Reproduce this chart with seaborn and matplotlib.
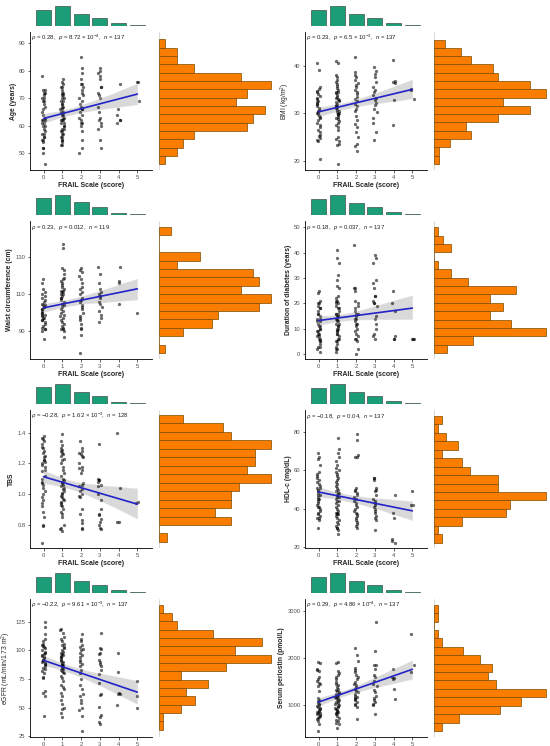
import numpy as np
import pandas as pd
import matplotlib
matplotlib.use("Agg")
import matplotlib.pyplot as plt
import seaborn as sns

# FRAIL score groups 0..5
scores = [0, 1, 2, 3, 4, 5]

age = [
    [78, 73, 73, 72, 72, 71, 70, 70, 69, 69, 68, 67, 66, 65, 64, 63, 62, 62, 62, 61,
     61, 60, 60, 59, 58, 57, 57, 56, 56, 55, 55, 54, 52, 52, 50, 46],
    [77, 76, 75, 74, 74, 73, 72, 72, 71, 71, 70, 70, 69, 69, 68, 68, 67, 67, 66, 66,
     65, 65, 64, 64, 63, 63, 62, 62, 62, 61, 61, 60, 60, 59, 59, 58, 58, 57, 57, 56,
     56, 55, 55, 54, 53, 53],
    [85, 81, 79, 77, 75, 75, 74, 73, 72, 71, 70, 69, 68, 67, 66, 66, 65, 64, 63, 62,
     61, 61, 60, 58, 55, 52, 50],
    [81, 80, 79, 78, 77, 74, 74, 72, 71, 70, 67, 65, 63, 62, 61, 60, 59, 55, 52],
    [75, 66, 64, 62, 62, 61],
    [76, 76, 69],
]
bmi = [
    [40.6, 39.1, 35.5, 35.2, 34.8, 34.5, 34.0, 33.6, 33.2, 33.0, 32.7, 32.4, 32.0, 31.6,
     31.2, 30.8, 30.5, 30.1, 29.8, 29.5, 29.2, 28.9, 28.5, 28.0, 27.6, 27.0, 26.5, 26.0,
     25.5, 25.1, 24.8, 24.4, 24.1, 30.3, 31.9, 20.4],
    [41.0, 40.6, 38.1, 37.6, 37.1, 36.6, 36.2, 35.8, 35.4, 35.0, 34.6, 34.2, 33.8, 33.5,
     33.2, 32.9, 32.6, 32.3, 32.0, 31.7, 31.4, 31.1, 30.8, 30.5, 30.2, 29.9, 29.6, 29.3,
     29.0, 28.7, 28.4, 28.0, 27.5, 27.0, 26.5, 25.0, 24.6, 24.2, 23.6, 23.2, 33.0, 31.6,
     30.0, 29.8, 34.4, 19.2],
    [42.0, 38.7, 38.2, 37.6, 37.0, 36.4, 36.0, 35.5, 35.0, 34.5, 34.0, 33.5, 33.0, 32.5,
     32.0, 31.5, 31.0, 30.5, 29.5, 28.6, 27.8, 27.0, 26.0, 25.0, 23.4, 23.0, 22.0],
    [39.9, 38.9, 38.3, 37.6, 36.6, 35.6, 35.0, 34.5, 33.8, 33.2, 32.8, 32.2, 31.7, 31.0,
     30.2, 29.0, 28.0, 26.0, 24.3],
    [41.2, 36.9, 36.7, 36.5, 32.8, 27.5],
    [35.2, 35.0, 33.0],
]
waist = [
    [118, 116, 113, 111, 110, 109, 108, 107, 106, 105, 104, 104, 103, 103, 102, 102, 101,
     100, 100, 99, 99, 98, 97, 96, 96, 95, 94, 93, 92, 91, 90, 97, 86, 91],
    [137, 135, 124, 123, 121, 119, 118, 117, 116, 115, 114, 113, 112, 112, 111, 110, 110,
     109, 108, 107, 106, 105, 104, 103, 102, 101, 100, 99, 98, 97, 96, 95, 94, 93, 92, 91,
     91, 90, 87, 108],
    [124, 123, 122, 120, 118, 116, 114, 113, 111, 110, 108, 107, 106, 104, 103, 102, 100,
     98, 97, 96, 94, 92, 91, 88, 78],
    [125, 121, 116, 113, 111, 110, 109, 108, 106, 105, 103, 101, 99, 97, 95],
    [125, 117, 116, 105],
    [100],
]
duration = [
    [25, 24, 21, 20, 20, 19, 18, 18, 17, 16, 16, 15, 14, 14, 13, 13, 12, 11, 11, 10, 10,
     9, 9, 8, 8, 7, 7, 6, 6, 5, 5, 4, 3, 2, 1, 3],
    [41, 38, 36, 31, 29, 27, 26, 23, 22, 21, 21, 20, 20, 19, 18, 18, 17, 16, 16, 15, 15,
     14, 14, 13, 12, 12, 11, 10, 10, 9, 9, 8, 8, 7, 6, 6, 5, 5, 4, 3, 2, 2, 1, 16, 13, 11],
    [43, 26, 26, 25, 21, 20, 19, 18, 17, 16, 16, 15, 14, 13, 12, 12, 11, 10, 9, 8, 7, 6,
     6, 5, 14, 2, 0],
    [39, 38, 36, 29, 28, 26, 23, 23, 21, 20, 20, 19, 15, 14, 12, 10, 8, 7, 6],
    [25, 20, 17, 7, 6, 6],
    [6, 6, 6],
]
tbs = [
    [1.38, 1.37, 1.36, 1.35, 1.33, 1.31, 1.30, 1.28, 1.27, 1.25, 1.24, 1.22, 1.21, 1.20,
     1.19, 1.18, 1.16, 1.15, 1.12, 1.10, 1.08, 1.07, 1.06, 1.04, 1.02, 1.00, 0.98, 0.96,
     0.94, 0.92, 0.88, 0.85, 0.80, 0.79, 0.68, 1.22],
    [1.39, 1.35, 1.32, 1.30, 1.29, 1.28, 1.26, 1.25, 1.23, 1.22, 1.20, 1.18, 1.16, 1.14,
     1.12, 1.10, 1.09, 1.08, 1.07, 1.06, 1.05, 1.04, 1.03, 1.02, 1.01, 1.00, 0.99, 0.98,
     0.97, 0.96, 0.95, 0.94, 0.93, 0.92, 0.90, 0.88, 0.87, 0.85, 0.80, 0.78, 0.77, 0.76,
     1.27],
    [1.35, 1.30, 1.28, 1.27, 1.26, 1.25, 1.24, 1.20, 1.18, 1.17, 1.16, 1.14, 1.07, 1.06,
     1.05, 1.03, 1.02, 1.00, 0.99, 0.98, 0.90, 0.87, 0.83, 0.81, 0.78, 0.77],
    [1.33, 1.10, 1.09, 1.09, 1.08, 1.06, 1.05, 1.00, 0.96, 0.90, 0.87, 0.86, 0.84, 0.82,
     0.80, 0.78, 0.77],
    [1.40, 1.04, 0.82, 0.82],
    [0.95, 0.94],
]
hdl = [
    [69, 67, 66, 63, 59, 58, 57, 56, 55, 54, 53, 52, 51, 51, 50, 49, 48, 47, 46, 45, 45,
     44, 43, 42, 41, 41, 40, 39, 38, 37, 36, 35, 35, 34, 30, 47],
    [77, 71, 69, 67, 65, 63, 61, 60, 59, 58, 57, 56, 55, 54, 53, 52, 51, 50, 49, 48, 47,
     46, 46, 45, 44, 44, 43, 42, 41, 40, 39, 38, 38, 37, 37, 36, 35, 34, 33, 32, 31, 30,
     30, 29, 27, 48],
    [79, 76, 68, 67, 67, 51, 50, 49, 48, 47, 46, 45, 44, 43, 42, 41, 40, 39, 38, 37, 36,
     35, 34, 33, 32, 31, 30],
    [56, 56, 55, 51, 50, 49, 47, 45, 44, 43, 42, 41, 40, 39, 38, 36, 35, 34, 29],
    [47, 38, 35, 24, 23, 22],
    [49, 42, 42],
]
egfr = [
    [125, 120, 114, 110, 108, 106, 105, 104, 103, 102, 100, 99, 98, 97, 96, 95, 94, 93,
     92, 91, 90, 89, 88, 87, 86, 85, 84, 82, 80, 77, 76, 65, 63, 60, 43, 92],
    [119, 118, 115, 112, 110, 108, 106, 105, 103, 102, 100, 99, 98, 97, 96, 95, 94, 93,
     92, 91, 90, 89, 88, 87, 86, 85, 84, 83, 82, 81, 80, 78, 76, 73, 70, 68, 66, 63, 60,
     57, 53, 50, 49, 45, 42, 87],
    [114, 110, 108, 105, 103, 101, 100, 98, 96, 94, 92, 90, 88, 86, 83, 80, 75, 70, 66,
     62, 60, 57, 54, 50, 48, 43, 30],
    [115, 102, 101, 98, 97, 92, 90, 88, 86, 83, 79, 72, 62, 61, 51, 44, 42, 38, 36],
    [98, 81, 63, 62, 62, 52],
    [73, 60, 50],
]
periostin = [
    [1920, 1900, 1760, 1740, 1720, 1600, 1560, 1520, 1480, 1450, 1400, 1300, 1150, 1100,
     1080, 1050, 1020, 1000, 980, 960, 940, 920, 900, 880, 860, 840, 820, 800, 780, 760,
     740, 720, 700, 650, 600, 450],
    [1930, 1900, 1720, 1680, 1650, 1600, 1550, 1500, 1460, 1420, 1380, 1350, 1320, 1300,
     1280, 1260, 1240, 1220, 1200, 1180, 1160, 1140, 1120, 1100, 1080, 1060, 1040, 1020,
     1000, 980, 960, 940, 920, 900, 880, 860, 840, 820, 800, 760, 720, 680, 650, 620, 600,
     500],
    [2210, 2060, 1950, 1800, 1750, 1700, 1650, 1600, 1550, 1500, 1450, 1420, 1380, 1350,
     1300, 1270, 1240, 1200, 1170, 1150, 1120, 1100, 1060, 1030, 1000, 950, 700],
    [2780, 2150, 1860, 1850, 1760, 1650, 1600, 1520, 1450, 1400, 1330, 1280, 1200, 1150,
     1100, 1060, 1020, 1000, 800],
    [1760, 1600, 1550, 1350, 1130, 1580],
    [2520, 1860, 1700],
]

# marginal histograms on the right (15 bins, low -> high)
age_hist = [1, 3, 4, 6, 15, 16, 18, 13, 15, 19, 14, 6, 3, 3, 1]
bmi_hist = [1, 1, 3, 7, 6, 12, 18, 13, 21, 18, 12, 11, 7, 5, 2]
waist_hist = [1, 0, 4, 9, 10, 17, 19, 14, 17, 16, 3, 7, 0, 0, 2]
duration_hist = [3, 9, 26, 18, 13, 16, 13, 19, 8, 4, 1, 0, 4, 2, 1]
tbs_hist = [1, 0, 9, 7, 9, 9, 10, 14, 11, 12, 12, 14, 9, 8, 3]
hdl_hist = [2, 1, 7, 18, 19, 28, 16, 16, 9, 7, 2, 6, 3, 1, 2]
egfr_hist = [1, 1, 5, 8, 6, 11, 5, 15, 25, 17, 23, 12, 4, 3, 1]
periostin_hist = [2, 6, 16, 21, 27, 15, 13, 14, 11, 7, 2, 1, 0, 1, 1]

hist_range = [(46.0, 91.3), (19.3, 45.6), (78.2, 146.4), (0.4, 50.0),
              (0.687, 1.517), (22.2, 88.5), (30.8, 139.8), (446, 3144)]

ylabels = ["Age (years)", "BMI (kg/m$^2$)", "Waist circumference (cm)",
           "Duration of diabetes (years)", "TBS", "HDL-c (mg/dL)",
           "eGFR (mL/min/1.73 m$^2$)", "Serum periostin (pmol/L)"]
bold_label = [True, False, True, True, True, True, False, True]
rho = ["0.28", "0.23", "0.23", "0.18", "\u22120.28", "\u22120.18", "\u22120.22", "0.29"]
pval = ["8.72 \u00d7 10$^{-4}$", "6.5 \u00d7 10$^{-3}$", "0.012", "0.037",
        "1.62 \u00d7 10$^{-3}$", "0.04", "9.61 \u00d7 10$^{-3}$", "4.86 \u00d7 10$^{-4}$"]
n_text = ["137", "137", "119", "137", "128", "137", "137", "137"]
ytick_vals = [[50, 60, 70, 80, 90], [20, 30, 40], [90, 110, 130], [0, 10, 20, 30, 40, 50],
              [0.8, 1.0, 1.2, 1.4], [20, 40, 60, 80], [25, 50, 75, 100, 125],
              [1000, 2000, 3000]]
ytick_text = [["50", "60", "70", "80", "90"], ["20", "30", "40"], ["90", "110", "130"],
              ["0", "10", "20", "30", "40", "50"], ["0.8", "1.0", "1.2", "1.4"],
              ["20", "40", "60", "80"], ["25", "50", "75", "100", "125"],
              ["1000", "2000", "3000"]]

values = [age, bmi, waist, duration, tbs, hdl, egfr, periostin]
hists = [age_hist, bmi_hist, waist_hist, duration_hist, tbs_hist, hdl_hist, egfr_hist,
         periostin_hist]

# layout (pixels)
ylims = [(44, 94), (18, 47.2), (75, 149.6), (-1.9, 52.4), (0.647, 1.55), (19.5, 91.5),
         (24.5, 144.8), (317, 3266)]
xlim = (-0.72, 5.78)
W, H = 550, 746

sns.set_theme(style="ticks")
plt.rcParams["font.family"] = ["Liberation Sans", "DejaVu Sans"]
plt.rcParams["mathtext.fontset"] = "custom"
plt.rcParams["mathtext.rm"] = "Liberation Sans"
plt.rcParams["mathtext.it"] = "Liberation Sans:italic"
plt.rcParams["mathtext.bf"] = "Liberation Sans:bold"

np.random.seed(7)
fig = plt.figure(figsize=(W / 100, H / 100), dpi=100)
fig.patch.set_facecolor("white")


def box(x0, y0, x1, y1):
    return [x0 / W, 1 - y1 / H, (x1 - x0) / W, (y1 - y0) / H]


for i in range(8):
    cx = 275 * (i % 2)
    cy = 189 * (i // 2)
    rows = []
    for s, vals in zip(scores, values[i]):
        for v in vals:
            rows.append((s, v))
    df = pd.DataFrame(rows, columns=["score", "value"])

    ax_top = fig.add_axes(box(cx + 30, cy + 5.5, cx + 152, cy + 26))
    ax = fig.add_axes(box(cx + 30, cy + 32, cx + 152, cy + 170))
    ax_r = fig.add_axes(box(cx + 159, cy + 32, cx + 272, cy + 170))

    # main scatter + linear fit
    sns.regplot(data=df, x="score", y="value", ax=ax, x_jitter=0.1, color="black",
                scatter_kws=dict(s=5.5, alpha=0.58, linewidths=0),
                line_kws=dict(lw=1.2), seed=1)
    ax.lines[-1].set_color("#2323C8")
    ax.lines[-1].set_zorder(5)
    ax.set_xlim(*xlim)
    ax.set_ylim(*ylims[i])
    ax.set_xticks(scores)
    ax.set_xticklabels([str(s) for s in scores])
    ax.set_yticks(ytick_vals[i])
    ax.set_yticklabels(ytick_text[i])
    ax.tick_params(labelsize=4.2, labelcolor="#4D4D4D", length=1.8, width=0.5, pad=1.5)
    for sp in ["top", "right"]:
        ax.spines[sp].set_visible(False)
    for sp in ["left", "bottom"]:
        ax.spines[sp].set_linewidth(0.6)
        ax.spines[sp].set_color("black")
    # bottom row label falls outside the picture in the reference
    if i < 6:
        ax.set_xlabel("FRAIL Scale (score)", fontsize=5, fontweight="bold", labelpad=2)
    else:
        ax.set_xlabel("")
    ax.set_ylabel(ylabels[i], fontsize=4.9, fontweight="bold" if bold_label[i] else "normal",
                  labelpad=1.5)
    ax.text(0.01, 0.955,
            "$\\rho$ = " + rho[i] + ",  $\\mathit{p}$ = " + pval[i] + ",  $\\mathit{n}$ = " + n_text[i],
            transform=ax.transAxes, fontsize=4.3, color="#222222", va="center", ha="left")

    # top marginal: FRAIL score counts
    sns.histplot(data=df, x="score", discrete=True, shrink=0.8, ax=ax_top,
                 color="#1B9E77", edgecolor="#2F2F2F", linewidth=0.4, alpha=1)
    ax_top.set_xlim(*xlim)
    ax_top.set_ylim(0, df["score"].value_counts().max())
    ax_top.axis("off")

    # right marginal: distribution of the outcome
    nb = len(hists[i])
    lo, hi = hist_range[i]
    step = (hi - lo) / nb
    hdf = pd.DataFrame({"value": [lo + step * (k + 0.5) for k in range(nb)],
                        "count": hists[i]})
    sns.histplot(data=hdf, y="value", weights="count", bins=nb, binrange=(lo, hi),
                 ax=ax_r, color="#FA7D00", edgecolor="#7A4A00", linewidth=0.5, alpha=1)
    ax_r.axvline(0, ymin=0, ymax=1, color="#C8C8C8", lw=0.5, zorder=0)
    ax_r.set_ylim(*ylims[i])
    ax_r.set_xlim(0, max(hists[i]) * 1.01)
    ax_r.axis("off")

fig.savefig("out.png", dpi=100, facecolor="white")
